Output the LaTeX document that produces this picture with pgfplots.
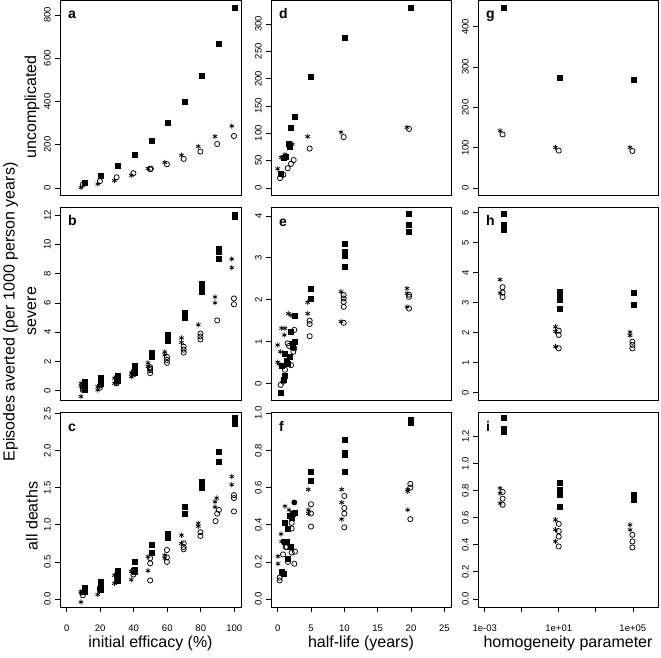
\documentclass[border=0pt]{standalone}
\usepackage{fontspec}
\setmainfont{Liberation Sans}
\usepackage{pgfplots}
\pgfplotsset{compat=1.18}
\newcommand{\tickf}{\fontsize{9.5}{10}\selectfont}
\newcommand{\labf}{\fontsize{16}{18}\selectfont}
\newcommand{\letf}{\fontsize{14}{16}\selectfont\bfseries}
\pgfplotsset{
  rp/.style={scale only axis, axis line style={line width=0.8pt}, tick align=outside,
    major tick length=5pt, ytick pos=left, xtick pos=bottom,
    tick style={line width=0.6pt,black},
    yticklabel style={rotate=90, anchor=south, font=\tickf, inner sep=0pt},
    yticklabel shift=4pt,
    xticklabel style={anchor=north, font=\tickf, inner sep=0pt},
    xticklabel shift=13pt,
  },
  c1/.style={rp, width=181pt, xmin=-4, xmax=104},
  c2/.style={rp, width=180pt, xmin=-1, xmax=26},
  c3/.style={rp, width=180pt, xmin=4.365e-4, xmax=2.29e6, xminorticks=false},
  r1/.style={height=195pt, xtick=\empty},
  r2/.style={height=193pt, xtick=\empty},
  r3/.style={height=195pt},
  sq/.style={black, only marks, mark=square*, mark size=2.5pt, mark options={draw=black, fill=black, line width=0.2pt}},
  ci/.style={black, only marks, mark=o, mark size=2.6pt, mark options={draw=black, line width=0.75pt}},
  st/.style={black, only marks, mark=asterisk, mark size=2.6pt, mark options={draw=black, line width=0.7pt}},
  fc/.style={black, only marks, mark=*, mark size=2.7pt, mark options={draw=black, fill=black}},
}
\newcommand{\plet}[1]{\node[anchor=base west, font=\letf, xshift=8pt, yshift=-19pt, inner sep=0pt] at (rel axis cs:0,1) {#1};}
\begin{document}
\begin{tikzpicture}
\useasboundingbox (0,0) rectangle (661pt,657pt);
% ---------------- row 1 ----------------
\begin{axis}[c1, r1, at={(60pt,462pt)}, anchor=south west, ymin=-33, ymax=869,
  ytick={0,200,400,600,800}, yticklabels={0,200,400,600,800}]
\addplot[sq] coordinates {(10.4,26) (20.4,58) (30.4,103) (40.4,154) (50.4,218) (60.4,300) (70.4,400) (80.4,518) (90.4,666) (100.4,834)};
\addplot[ci] coordinates {(9.6,15) (19.8,31) (29.8,49) (39.8,68) (49.8,86) (50.2,89) (59.8,109) (69.8,134) (79.8,168) (89.8,203) (99.8,240)};
\addplot[st] coordinates {(8.5,1) (18.5,18) (28.5,34) (38.5,58) (48.5,90) (58.5,118) (68.5,151) (78.5,192) (88.5,238) (98.5,286)};
\plet{a}
\end{axis}
\begin{axis}[c2, r1, at={(271pt,462pt)}, anchor=south west, ymin=-13, ymax=344,
  ytick={0,50,100,150,200,250,300}, yticklabels={0,50,100,150,200,250,300}]
\addplot[sq] coordinates {(0.5,27) (0.9,55) (1.2,58) (1.6,82) (1.8,76) (2.0,110) (2.5,130) (4.9,203) (10.0,275) (19.9,330)};
\addplot[ci] coordinates {(0.35,18) (0.85,24) (1.5,36) (2.0,44) (2.4,51) (4.8,72) (9.9,93) (19.7,108)};
\addplot[st] coordinates {(0.0,35) (0.5,56) (1.1,61) (1.7,76) (2.2,80) (4.5,94) (9.5,102) (19.4,111)};
\plet{d}
\end{axis}
\begin{semilogxaxis}[c3, r1, at={(478pt,462pt)}, anchor=south west, ymin=-17, ymax=466,
  ytick={0,100,200,300,400}, yticklabels={0,100,200,300,400}]
\addplot[sq] coordinates {(0.0107,446) (10.8,275) (1.07e5,268)};
\addplot[ci] coordinates {(0.0093,133) (10,93) (0.95e5,92)};
\addplot[st] coordinates {(0.0068,142) (6.6,101) (7.1e4,101)};
\plet{g}
\end{semilogxaxis}
% ---------------- row 2 ----------------
\begin{axis}[c1, r2, at={(60pt,257pt)}, anchor=south west, ymin=-0.64, ymax=12.55,
  ytick={0,2,4,6,8,10,12}, yticklabels={0,2,4,6,8,10,12}]
\addplot[sq] coordinates {(10.4,0.1) (10.4,0.3) (10.4,0.5) (10.4,0.65) (20.4,0.45) (20.4,0.6) (20.4,0.75) (20.4,0.9)
 (30.4,0.7) (30.4,0.9) (30.4,1.05) (40.4,1.25) (40.4,1.45) (40.4,1.7) (50.4,2.35) (50.4,2.6)
 (60.4,3.4) (60.4,3.6) (60.4,3.8) (70.4,5.0) (70.4,5.3) (80.4,6.8) (80.4,7.0) (80.4,7.3)
 (90.4,9.0) (90.4,9.5) (90.4,9.7) (100.4,11.9) (100.4,12.05)};
\addplot[ci] coordinates {(9.6,0.05) (9.6,0.15) (9.6,0.27) (19.8,0.2) (19.8,0.35) (29.8,0.5) (29.8,0.6)
 (39.8,1.1) (39.8,1.3) (49.8,1.2) (49.8,1.4) (49.8,1.5) (49.8,1.6) (59.8,1.9) (59.8,2.1) (59.8,2.3)
 (69.8,2.6) (69.8,2.8) (69.8,3.0) (79.8,3.5) (79.8,3.7) (79.8,3.9) (89.8,4.8) (99.8,5.9) (99.8,6.3)};
\addplot[st] coordinates {(8.5,-0.4) (8.5,0.3) (8.5,0.5) (18.5,0.05) (18.5,0.27) (28.5,0.5) (28.5,0.85)
 (38.5,0.95) (38.5,1.2) (48.5,1.65) (48.5,1.9) (58.5,2.45) (58.5,2.65) (68.5,3.3) (68.5,3.6)
 (78.5,4.5) (88.5,6.0) (88.5,6.4) (98.5,8.4) (98.5,9.0)};
\plet{b}
\end{axis}
\begin{axis}[c2, r2, at={(271pt,257pt)}, anchor=south west, ymin=-0.39, ymax=4.21,
  ytick={0,1,2,3,4}, yticklabels={0,1,2,3,4}]
\addplot[sq] coordinates {(19.6,4.05) (19.6,3.78) (19.6,3.62) (10,3.34) (10,3.14) (10,3.05) (10,2.8) (4.95,2.27) (4.95,2.02)
 (0.5,-0.21) (0.84,0.09) (1.1,0.2) (1.5,0.48) (1.8,0.64) (2.2,0.88) (2.5,1.0) (2.5,1.63) (2.0,1.24) (0.6,0.44) (1.1,0.72) (1.3,0.55) (2.3,0.95)};
\addplot[ci] coordinates {(19.7,2.07) (19.7,2.12) (19.7,1.79) (9.9,2.11) (9.9,2.03) (9.9,1.95) (9.9,1.83) (9.9,1.45)
 (4.8,1.5) (4.8,1.42) (4.8,1.13) (0.45,-0.03) (0.85,0.05) (1.1,0.33) (1.5,0.96) (2.0,0.44) (2.5,1.28) (2.5,0.84) (2.35,0.76) (1.7,0.9)};
\addplot[st] coordinates {(19.4,2.27) (19.4,2.15) (19.4,1.83) (9.5,2.19) (9.5,1.48) (4.5,1.94) (4.5,1.67)
 (0.0,0.92) (0.4,0.76) (0.0,0.51) (0.2,0.47) (0.6,1.32) (1.1,1.32) (1.0,1.16) (1.6,1.67) (2.0,1.63)};
\plet{e}
\end{axis}
\begin{semilogxaxis}[c3, r2, at={(478pt,257pt)}, anchor=south west, ymin=-0.24, ymax=6.19,
  ytick={0,1,2,3,4,5,6}, yticklabels={0,1,2,3,4,5,6}]
\addplot[sq] coordinates {(0.0107,5.98) (0.0107,5.6) (0.0107,5.45) (10.8,3.38) (10.8,3.21) (10.8,3.1) (10.8,2.82) (1.07e5,3.34) (1.07e5,2.93)};
\addplot[ci] coordinates {(0.0093,3.52) (0.0093,3.34) (0.0093,3.19) (10,2.07) (10,1.93) (10,1.48) (9.5e4,1.7) (9.5e4,1.6) (9.5e4,1.48)};
\addplot[st] coordinates {(0.0068,3.77) (0.0068,3.32) (6.6,2.2) (6.6,2.04) (6.6,1.54) (7.1e4,2.02) (7.1e4,1.91)};
\plet{h}
\end{semilogxaxis}
% ---------------- row 3 ----------------
\begin{axis}[c1, r3, at={(60pt,50pt)}, anchor=south west, ymin=-0.108, ymax=2.52,
  ytick={0,0.5,1,1.5,2,2.5}, yticklabels={0.0,0.5,1.0,1.5,2.0,2.5},
  xtick={0,20,40,60,80,100}, xticklabels={0,20,40,60,80,100}]
\addplot[sq] coordinates {(10.4,0.1) (10.4,0.15) (20.4,0.13) (20.4,0.18) (20.4,0.24) (30.4,0.25) (30.4,0.3) (30.4,0.38)
 (40.4,0.37) (40.4,0.4) (40.4,0.5) (50.4,0.62) (50.4,0.73) (60.4,0.83) (60.4,0.88) (70.4,1.15) (70.4,1.24)
 (80.4,1.5) (80.4,1.58) (90.4,1.85) (90.4,1.98) (100.4,2.37) (100.4,2.45)};
\addplot[ci] coordinates {(9.6,0.05) (9.6,0.09) (19.8,0.12) (19.8,0.15) (29.8,0.24) (29.8,0.3) (39.8,0.33) (39.8,0.39)
 (49.8,0.25) (49.8,0.48) (49.8,0.55) (59.8,0.5) (59.8,0.56) (59.8,0.66) (69.8,0.67) (69.8,0.7) (69.8,0.75)
 (79.8,0.85) (79.8,0.9) (88.8,1.05) (89.8,1.15) (90.8,1.2) (99.8,1.18) (99.8,1.36) (99.8,1.4)};
\addplot[st] coordinates {(8.5,-0.04) (8.5,0.08) (8.5,0.1) (18.5,0.06) (28.5,0.21) (28.5,0.32) (38.5,0.26) (38.5,0.37)
 (48.5,0.38) (48.5,0.57) (58.5,0.55) (58.5,0.59) (68.5,0.75) (68.5,0.86) (78.5,0.98) (78.5,1.02)
 (88.5,1.24) (88.5,1.31) (89.5,1.36) (98.5,1.54) (98.5,1.65)};
\plet{c}
\end{axis}
\begin{axis}[c2, r3, at={(271pt,50pt)}, anchor=south west, ymin=-0.043, ymax=1.007,
  ytick={0,0.2,0.4,0.6,0.8,1}, yticklabels={0.0,0.2,0.4,0.6,0.8,1.0},
  xtick={0,5,10,15,20,25}, xticklabels={0,5,10,15,20,25}]
\addplot[sq] coordinates {(19.9,0.964) (19.9,0.95) (10,0.856) (10,0.79) (10,0.776) (10,0.686) (5,0.686) (5,0.64)
 (0.55,0.147) (0.95,0.138) (1.0,0.41) (1.5,0.38) (1.35,0.31) (2.0,0.28) (1.8,0.45) (2.3,0.46) (2.6,0.465) (1.55,0.22) (1.1,0.31) (2.1,0.44)};
\addplot[fc] coordinates {(2.5,0.52)};
\addplot[ci] coordinates {(19.9,0.62) (19.9,0.6) (19.9,0.43) (10,0.555) (10,0.49) (10,0.46) (10,0.386) (5,0.51) (5,0.46) (5,0.39)
 (0.3,0.1) (0.3,0.115) (0.8,0.24) (1.35,0.28) (1.55,0.2) (2.1,0.41) (2.1,0.38) (2.1,0.25) (2.6,0.255) (2.5,0.19) (1.2,0.28)};
\addplot[st] coordinates {(19.5,0.59) (19.5,0.58) (19.5,0.48) (9.6,0.59) (9.6,0.52) (9.6,0.43) (4.6,0.59) (4.6,0.48) (4.6,0.46)
 (0.05,0.23) (0.05,0.19) (0.5,0.35) (0.6,0.31) (1.1,0.5) (1.7,0.48) (0.85,0.31)};
\plet{f}
\end{axis}
\begin{semilogxaxis}[c3, r3, at={(478pt,50pt)}, anchor=south west, ymin=-0.06, ymax=1.38,
  ytick={0,0.2,0.4,0.6,0.8,1,1.2}, yticklabels={0.0,0.2,0.4,0.6,0.8,1.0,1.2},
  xtick={1e-3,1e-1,1e1,1e3,1e5}, xticklabels={1e-03,,1e+01,,1e+05}]
\addplot[sq] coordinates {(0.0107,1.336) (0.0107,1.26) (0.0107,1.237) (10.8,0.855) (10.8,0.806) (10.8,0.77) (10.8,0.68) (1.07e5,0.77) (1.07e5,0.73)};
\addplot[ci] coordinates {(0.0093,0.79) (0.0093,0.74) (0.0093,0.695) (10,0.554) (10,0.5) (10,0.46) (10,0.387) (9.5e4,0.473) (9.5e4,0.424) (9.5e4,0.38)};
\addplot[st] coordinates {(0.0068,0.818) (0.0068,0.78) (0.0068,0.707) (6.6,0.584) (6.6,0.51) (6.6,0.424) (7.1e4,0.547) (7.1e4,0.51)};
\plet{i}
\end{semilogxaxis}
% ---------------- labels ----------------
\node[rotate=90, font=\labf] at (10.5pt,345pt) {Episodes averted (per 1000 person years)};
\node[rotate=90, font=\labf] at (32pt,550pt) {uncomplicated};
\node[rotate=90, font=\labf] at (32pt,346pt) {severe};
\node[rotate=90, font=\labf] at (32pt,141pt) {all deaths};
\node[font=\labf] at (150.5pt,14pt) {initial efficacy (\%)};
\node[font=\labf] at (361pt,14pt) {half-life (years)};
\node[font=\labf] at (568pt,14pt) {homogeneity parameter};
\end{tikzpicture}
\end{document}
